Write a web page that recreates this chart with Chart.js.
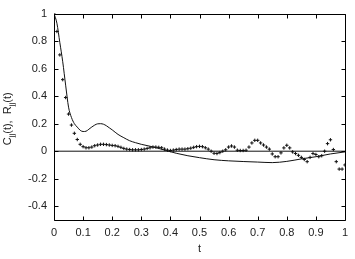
<!DOCTYPE html>
<html>
<head>
<meta charset="utf-8">
<script src="https://cdn.jsdelivr.net/npm/chart.js@4.4.1/dist/chart.umd.min.js"></script>
<style>
  html, body { margin: 0; padding: 0; background: #fff; }
  #wrap { width: 355px; height: 259px; }
</style>
</head>
<body>
<div id="wrap"><canvas id="c"></canvas></div>
<script>
// tick labels
const xTicks = [0, 0.1, 0.2, 0.3, 0.4, 0.5, 0.6, 0.7, 0.8, 0.9, 1];
const yTicks = [-0.4, -0.2, 0, 0.2, 0.4, 0.6, 0.8, 1];

// points (+) : R(t)
const ptT = [0, 0.01, 0.02, 0.03, 0.04, 0.05, 0.06, 0.07, 0.08, 0.09,
  0.10, 0.11, 0.12, 0.13, 0.14, 0.15, 0.16, 0.17, 0.18, 0.19,
  0.20, 0.21, 0.22, 0.23, 0.24, 0.25, 0.26, 0.27, 0.28, 0.29,
  0.30, 0.31, 0.32, 0.33, 0.34, 0.35, 0.36, 0.37, 0.38, 0.39,
  0.40, 0.41, 0.42, 0.43, 0.44, 0.45, 0.46, 0.47, 0.48, 0.49,
  0.50, 0.51, 0.52, 0.53, 0.54, 0.55, 0.56, 0.57, 0.58, 0.59,
  0.60, 0.61, 0.62, 0.63, 0.64, 0.65, 0.66, 0.67, 0.68, 0.69,
  0.70, 0.71, 0.72, 0.73, 0.74, 0.75, 0.76, 0.77, 0.78, 0.79,
  0.80, 0.81, 0.82, 0.83, 0.84, 0.85, 0.86, 0.87, 0.88, 0.89,
  0.90, 0.91, 0.92, 0.93, 0.94, 0.95, 0.96, 0.97, 0.98, 0.99, 1.00];
const ptV = [1.0, 0.87, 0.70, 0.52, 0.39, 0.27, 0.19, 0.13, 0.085, 0.05,
  0.033, 0.025, 0.025, 0.03, 0.04, 0.045, 0.05, 0.05, 0.048, 0.045,
  0.042, 0.04, 0.035, 0.028, 0.02, 0.015, 0.012, 0.01, 0.01, 0.01,
  0.012, 0.015, 0.02, 0.025, 0.03, 0.03, 0.028, 0.025, 0.015, 0.008,
  0.005, 0.008, 0.012, 0.015, 0.015, 0.015, 0.018, 0.022, 0.028, 0.033,
  0.035, 0.033, 0.025, 0.015, 0.0, -0.015, -0.017, -0.01, 0.0, 0.01,
  0.03, 0.038, 0.03, 0.007, 0.005, 0.005, 0.007, 0.03, 0.06, 0.079,
  0.079, 0.06, 0.045, 0.03, 0.015, -0.02, -0.04, -0.04, -0.012, 0.024,
  0.043, 0.024, -0.005, -0.017, -0.03, -0.045, -0.06, -0.076, -0.045, -0.017,
  -0.024, -0.04, -0.033, 0.0, 0.055, 0.083, 0.012, -0.076, -0.13, -0.13, -0.1];

// solid curve : C(t)
const lineT = [0, 0.01, 0.02, 0.03, 0.04, 0.05, 0.06, 0.07, 0.08, 0.09,
  0.10, 0.11, 0.12, 0.13, 0.14, 0.15, 0.16, 0.17, 0.18, 0.19,
  0.20, 0.22, 0.24, 0.26, 0.28, 0.30, 0.33, 0.36, 0.39, 0.42,
  0.46, 0.50, 0.55, 0.60, 0.65, 0.70, 0.75, 0.80, 0.85, 0.90, 0.95, 1.0];
const lineV = [1.0, 0.93, 0.79, 0.65, 0.48, 0.32, 0.245, 0.2, 0.175, 0.152,
  0.143, 0.145, 0.16, 0.176, 0.19, 0.199, 0.2, 0.196, 0.185, 0.17,
  0.155, 0.122, 0.098, 0.076, 0.062, 0.05, 0.036, 0.02, 0.002, -0.015,
  -0.033, -0.047, -0.062, -0.07, -0.075, -0.079, -0.083, -0.074, -0.056, -0.04, -0.02, -0.005];

// zero line
const zeroT = [0, 1];
const zeroV = [0, 0];

const toXY = (ts, vs) => ts.map((t, i) => ({ x: t, y: vs[i] }));
const fontFam = '"Liberation Sans", Arial, sans-serif';
const ink = '#222';

// frame + inward ticks like gnuplot
const frame = {
  id: 'frame',
  afterDatasetsDraw(chart) {
    const { ctx, chartArea: a, scales: { x, y } } = chart;
    ctx.save();
    ctx.strokeStyle = '#000';
    ctx.lineWidth = 1;
    ctx.beginPath();
    const L = Math.round(a.left) + 0.5, R = Math.round(a.right) + 0.5;
    const T = Math.round(a.top) + 0.5, B = Math.round(a.bottom) + 0.5;
    ctx.rect(L, T, R - L, B - T);
    xTicks.forEach(v => {
      const px = Math.round(x.getPixelForValue(v)) + 0.5;
      ctx.moveTo(px, B); ctx.lineTo(px, B - 4);
      ctx.moveTo(px, T); ctx.lineTo(px, T + 4);
    });
    yTicks.forEach(v => {
      const py = Math.round(y.getPixelForValue(v)) + 0.5;
      ctx.moveTo(L, py); ctx.lineTo(L + 4, py);
      ctx.moveTo(R, py); ctx.lineTo(R - 4, py);
    });
    ctx.stroke();
    ctx.restore();
  },
  afterDraw(chart) {
    // y title with subscripts
    const { ctx, chartArea: a } = chart;
    const main = '11px ' + fontFam, sub = '8px ' + fontFam;
    const parts = [['C', main, 0], ['jj', sub, 3], ['(t),  R', main, 0], ['jj', sub, 3], ['(t)', main, 0]];
    ctx.save();
    let w = 0;
    parts.forEach(p => { ctx.font = p[1]; w += ctx.measureText(p[0]).width; });
    ctx.translate(10.5, (a.top + a.bottom) / 2 + 2);
    ctx.rotate(-Math.PI / 2);
    ctx.fillStyle = ink;
    ctx.textBaseline = 'alphabetic';
    let cx = -w / 2;
    parts.forEach(p => {
      ctx.font = p[1];
      ctx.fillText(p[0], cx, p[2]);
      cx += ctx.measureText(p[0]).width;
    });
    ctx.restore();
  }
};

new Chart(document.getElementById('c'), {
  type: 'scatter',
  data: {
    datasets: [
      {
        data: toXY(zeroT, zeroV),
        showLine: true,
        borderColor: '#111',
        borderWidth: 1,
        pointRadius: 0
      },
      {
        data: toXY(lineT, lineV),
        showLine: true,
        borderColor: '#111',
        borderWidth: 1,
        pointRadius: 0,
        cubicInterpolationMode: 'monotone'
      },
      {
        data: toXY(ptT, ptV),
        showLine: false,
        pointStyle: 'cross',
        pointRadius: 1.7,
        borderColor: '#111',
        borderWidth: 1
      }
    ]
  },
  options: {
    responsive: true,
    maintainAspectRatio: false,
    animation: false,
    layout: { padding: { top: 11, right: 10, left: 0, bottom: 0 } },
    plugins: { legend: { display: false }, tooltip: { enabled: false } },
    scales: {
      x: {
        type: 'linear',
        min: 0, max: 1,
        afterBuildTicks: s => { s.ticks = xTicks.map(v => ({ value: v })); },
        afterFit: s => { s.height = 39; },
        grid: { display: false, drawTicks: false },
        border: { display: false },
        ticks: { color: ink, padding: 6, maxRotation: 0, font: { family: fontFam, size: 11 },
                 callback: v => String(Math.round(v * 10) / 10) },
        title: { display: true, text: 't', color: ink, font: { family: fontFam, size: 11 },
                 padding: { top: 0, bottom: 3 } }
      },
      y: {
        type: 'linear',
        min: -0.5, max: 1,
        afterBuildTicks: s => { s.ticks = yTicks.map(v => ({ value: v })); },
        afterFit: s => { s.width = 54; },
        grid: { display: false, drawTicks: false },
        border: { display: false },
        ticks: { color: ink, padding: 7, font: { family: fontFam, size: 11 },
                 callback: v => String(Math.round(v * 10) / 10) }
      }
    }
  },
  plugins: [frame]
});
</script>
</body>
</html>
